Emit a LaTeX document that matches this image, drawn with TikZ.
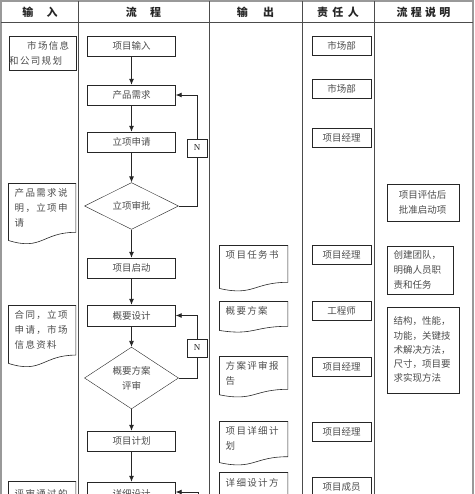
\documentclass[tikz,border=0pt]{standalone}
\usepackage{fontspec}
\setmainfont{Liberation Serif}
\newfontfamily\cjk{Noto Sans CJK SC}
\newfontfamily\cjkwide[LetterSpace=14]{Noto Sans CJK SC}
\usetikzlibrary{arrows.meta,shapes.geometric,calc}
\definecolor{ink}{gray}{0.15}
\definecolor{inktext}{gray}{0.3}
\definecolor{rulegray}{gray}{0.3}
\definecolor{framegray}{gray}{0.6}
\tikzset{
  font=\cjk\fontsize{9.5}{15}\selectfont,
  head/.style={
    text=ink,
    inner sep=0pt,
    font=\cjk\bfseries\fontsize{11}{13}\selectfont
  },
  proc/.style={
    draw=ink,
    text=inktext,
    minimum width=88pt,
    minimum height=20pt,
    inner sep=0pt
  },
  decide/.style={
    draw=ink,
    text=inktext,
    diamond,
    align=center,
    minimum width=94pt,
    minimum height=46pt,
    inner sep=0pt
  },
  tag/.style={
    draw=ink,
    fill=white,
    text=ink,
    minimum width=20pt,
    minimum height=18pt,
    inner sep=0pt,
    font=\rmfamily\fontsize{9}{10}\selectfont
  },
  role/.style={
    draw=ink,
    text=inktext,
    minimum width=59pt,
    minimum height=19pt,
    inner sep=0pt
  },
  note/.style={
    draw=ink,
    text=inktext,
    anchor=north west,
    align=left,
    text width=58pt,
    inner xsep=7pt,
    inner ysep=0pt
  },
  doc/.style={
    text=inktext,
    anchor=north west,
    align=left,
    text width=55pt,
    inner xsep=6pt,
    inner ysep=5pt,
    font=\cjkwide\fontsize{9.5}{15}\selectfont
  },
  docline/.style={draw=ink, line width=0.6pt},
  arrow/.style={-{Latex[length=6pt,width=5pt]}, draw=ink, line width=0.8pt},
  loop/.style={draw=ink, line width=0.8pt},
  rule/.style={draw=rulegray, line width=1pt},
  frame/.style={draw=framegray, line width=2pt}
}
% outline of a document shape hung under a named node
\newcommand{\docframe}[2]{%
  \draw[docline] (#1.north west) -- (#1.north east)
    -- ([yshift=-0.8*#2]#1.north east)
    .. controls ([yshift=-0.8*#2]#1.north) and ([yshift=-1.107*#2]#1.north)
    .. ([yshift=-0.934*#2]#1.north west) -- cycle;}

\begin{document}
\begin{tikzpicture}[x=1pt, y=-1pt]
\path[use as bounding box, clip] (0,0) rectangle (474,494);

% Table
\draw[frame] (1,1) rectangle (473,540);
\draw[rule] (1,23) -- (473,23);
\draw[rule] (78,1) -- (78,540);
\draw[rule] (209,1) -- (209,540);
\draw[rule] (302,1) -- (302,540);
\draw[rule] (374,1) -- (374,540);

\node[head] (hIn) at (40,12) {输\hspace{1.2em}入};
\node[head] (hFlow) at (143.5,12) {流\hspace{1.2em}程};
\node[head] (hOut) at (255.5,12) {输\hspace{1.4em}出};
\node[head] (hOwner) at (338,12) {责\hspace{0.4em}任\hspace{0.4em}人};
\node[head] (hNote) at (423.5,12) {流\hspace{0.3em}程\hspace{0.3em}说\hspace{0.3em}明};

% Input column
\node[draw=ink, text=inktext, anchor=north west, align=left, text width=66pt,
  inner xsep=0.5pt, inner ysep=0pt, minimum height=34pt,
  font=\cjkwide\fontsize{9.5}{15}\selectfont] (mktinfo) at (8.5,36.5)
  {\hspace*{18pt}市场信息\\和公司规划};
\node[doc] (reqspec) at (8.5,183.5) {产品需求说\\明，立项申\\请};
\node[doc] (contract) at (8.5,305.5) {合同，立项\\申请，市场\\信息资料};
\node[doc, inner ysep=8pt] (passed) at (8.5,481.5) {评审通过的};
\docframe{reqspec}{61pt}
\docframe{contract}{62pt}
\docframe{passed}{60pt}

% Process column
\node[proc] (entry) at (131.5,46) {项目输入};
\node[proc] (demand) at (131.5,95) {产品需求};
\node[proc] (apply) at (131.5,142) {立项申请};
\node[decide] (approve) at (131.5,206) {立项审批};
\node[proc] (launch) at (131.5,268) {项目启动};
\node[proc, minimum height=21pt] (outline) at (131.5,315.5) {概要设计};
\node[decide, minimum height=60pt] (outrev) at (131.5,378) {概要方案\\评审};
\node[proc] (plan) at (131.5,441) {项目计划};
\node[proc, minimum height=24pt] (detail) at (131.5,494) {详细设计};

\node[tag] (noA) at (197,148) {N};
\node[tag] (noB) at (197,348) {N};
\coordinate (backC) at (198,530);

\draw[arrow] (entry) -- (demand);
\draw[arrow] (demand) -- (apply);
\draw[arrow] (apply) -- (approve);
\draw[arrow] (approve) -- (launch);
\draw[arrow] (launch) -- (outline);
\draw[arrow] (outline) -- (outrev);
\draw[arrow] (outrev) -- (plan);
\draw[arrow] (plan) -- (detail);

\draw[loop] (approve.east) -| (noA.south);
\draw[arrow] (noA.north) |- (demand.east);
\draw[loop] (outrev.east) -| (noB.south);
\draw[arrow] (noB.north) |- (outline.east);
\draw[arrow] (backC) |- ([yshift=2pt]detail.east);

% Output column
\node[doc, text width=56pt] (taskbook) at (219.5,245.5) {项目任务书};
\node[doc, text width=56pt] (scheme) at (219.5,301.5) {概要方案};
\node[doc, text width=56pt] (reviewrep) at (219.5,356.5) {方案评审报\\告};
\node[doc, text width=56pt] (detplan) at (219.5,421.5) {项目详细计\\划};
\node[doc, text width=56pt, inner ysep=6pt] (detspec) at (219.5,472.5) {详细设计方};
\docframe{taskbook}{46pt}
\docframe{scheme}{31pt}
\docframe{reviewrep}{41pt}
\docframe{detplan}{44pt}
\docframe{detspec}{60pt}

% Owner column
\node[role] (mktA) at (341.5,46) {市场部};
\node[role] (mktB) at (341.5,88.5) {市场部};
\node[role] (pmA) at (341.5,137.5) {项目经理};
\node[role] (pmB) at (341.5,254.5) {项目经理};
\node[role] (eng) at (341.5,310.5) {工程师};
\node[role] (pmC) at (341.5,366.5) {项目经理};
\node[role] (pmD) at (341.5,431.5) {项目经理};
\node[role, minimum height=20pt] (member) at (341.5,487) {项目成员};

% Notes column
\node[note, align=center, minimum height=37pt] (evalnote) at (386.5,183.5) {项目评估后\\批准启动项};
\node[note, text width=52pt, minimum height=48pt] (teamnote) at (386.5,245.5) {创建团队，\\明确人员职\\责和任务};
\node[note, minimum height=86pt, font=\cjk\fontsize{9.5}{14.2}\selectfont] (designnote) at (386.5,306.5)
  {结构，性能，\\功能，关键技\\术解决方法，\\尺寸，项目要\\求实现方法};

\end{tikzpicture}
\end{document}
